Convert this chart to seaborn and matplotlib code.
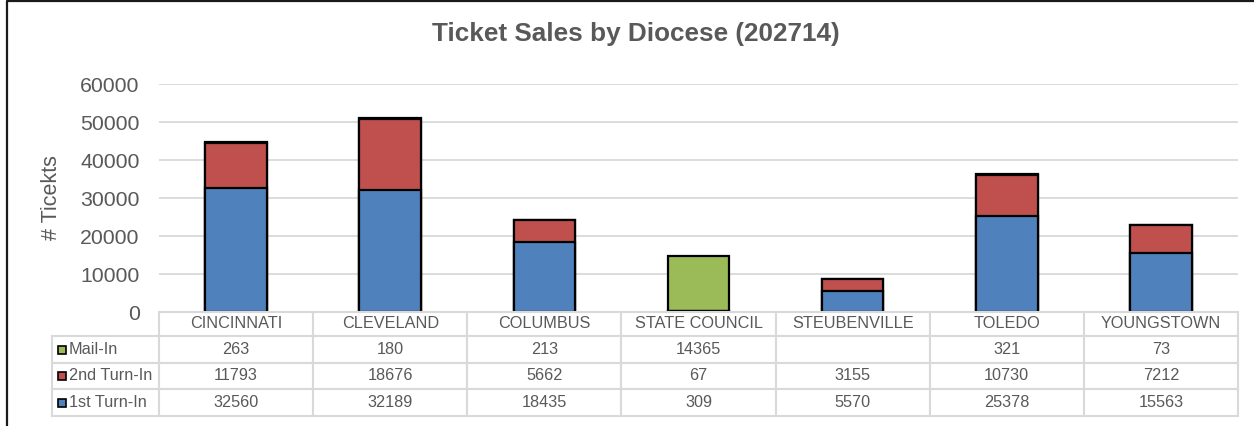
import matplotlib
matplotlib.use("Agg")
import matplotlib.pyplot as plt
import seaborn as sns
import numpy as np
import pandas as pd
from matplotlib.table import Table
from matplotlib.patches import Rectangle
from matplotlib.lines import Line2D

# ---- data ----
categories = ["CINCINNATI", "CLEVELAND", "COLUMBUS", "STATE COUNCIL",
              "STEUBENVILLE", "TOLEDO", "YOUNGSTOWN"]
first_turn_in = [32560, 32189, 18435, 309, 5570, 25378, 15563]
second_turn_in = [11793, 18676, 5662, 67, 3155, 10730, 7212]
mail_in = [263, 180, 213, 14365, None, 321, 73]
series_names = ["Mail-In", "2nd Turn-In", "1st Turn-In"]
y_ticks = [0, 10000, 20000, 30000, 40000, 50000, 60000]
title = "Ticket Sales by Diocese (202714)"
y_label = "# Ticekts"

BLUE, RED, GREEN = "#4F81BD", "#C0504D", "#9BBB59"
TXT = "#595959"
GRID = "#D9D9D9"

sns.set_theme(style="white")
plt.rcParams["font.family"] = ["Liberation Sans", "DejaVu Sans"]

W, H = 1254, 426
fig = plt.figure(figsize=(W / 100, H / 100), dpi=100)

# outer border (only top and left visible in the reference)
fig.lines.append(Line2D([6.5 / W, 6.5 / W, 1.0], [0.0, 1 - 1 / H, 1 - 1 / H],
                        transform=fig.transFigure, color="#1a1a1a", linewidth=1.6))

ax = fig.add_axes([159 / W, 1 - 312 / H, (1238 - 159) / W, (312 - 84) / H])

df = pd.DataFrame({"cat": categories, "first": first_turn_in,
                   "second": second_turn_in,
                   "mail": [m if m is not None else 0 for m in mail_in]})
df["lvl2"] = df["first"] + df["second"]
df["lvl3"] = df["lvl2"] + df["mail"]

common = dict(x="cat", saturation=1, width=0.4, edgecolor="black",
              linewidth=1.6, errorbar=None, ax=ax, order=categories)
sns.barplot(data=df, y="lvl3", color=GREEN, **common)
sns.barplot(data=df, y="lvl2", color=RED, **common)
sns.barplot(data=df, y="first", color=BLUE, **common)

ax.set_ylim(0, 60000)
ax.set_xlim(-0.5, len(categories) - 0.5)
ax.set_yticks(y_ticks)
ax.set_yticklabels([str(t) for t in y_ticks], fontsize=15.3, color=TXT)
ax.tick_params(axis="y", length=0, pad=14)
ax.set_xticks([])
ax.set_xlabel("")
ax.set_ylabel(y_label, fontsize=15.5, color=TXT)
ax.yaxis.set_label_coords((62 - 159) / (1238 - 159), (312 - 198) / (312 - 84))
ax.yaxis.grid(True, color=GRID, linewidth=1.3)
ax.set_axisbelow(True)
for s in ax.spines.values():
    s.set_visible(False)

fig.text(636 / W, 1 - 34 / H, title, ha="center", va="center",
         fontsize=18.8, fontweight="bold", color=TXT)

# ---- data table ----
ax_t = fig.add_axes([52 / W, 1 - 416 / H, (1238 - 52) / W, (416 - 312) / H])
ax_t.axis("off")
tbl = Table(ax_t, bbox=[0, 0, 1, 1])
col_w = [107 / 1186] + [154 / 1186] * len(categories)
row_h = [24 / 104, 27 / 104, 26 / 104, 27 / 104]

def fmt(v):
    return "" if v is None else str(v)

rows = [mail_in, second_turn_in, first_turn_in]
for j, c in enumerate(categories):
    tbl.add_cell(0, j + 1, col_w[j + 1], row_h[0], text=c, loc="center")
for i, (name, vals) in enumerate(zip(series_names, rows)):
    cell = tbl.add_cell(i + 1, 0, col_w[0], row_h[i + 1], text=name, loc="left")
    cell.PAD = 17 / 107
    for j, v in enumerate(vals):
        tbl.add_cell(i + 1, j + 1, col_w[j + 1], row_h[i + 1], text=fmt(v), loc="center")
corner = tbl.add_cell(0, 0, col_w[0], row_h[0], text="")
corner.visible_edges = ""

tbl.auto_set_font_size(False)
tbl.set_fontsize(11.7)
for (r, c), cell in tbl.get_celld().items():
    cell.set_edgecolor(GRID)
    cell.set_linewidth(1.5)
    cell.get_text().set_color(TXT)
ax_t.add_table(tbl)

# legend swatches in row labels
sw_colors = [GREEN, RED, BLUE]
cum = 1 - row_h[0]
for i, col in enumerate(sw_colors):
    h = row_h[i + 1]
    yc = cum - h / 2
    cum -= h
    ax_t.add_patch(Rectangle(((58 - 52) / 1186, yc - 4 / 104), 8 / 1186, 8 / 104,
                             transform=ax_t.transAxes, facecolor=col,
                             edgecolor="black", linewidth=1.2, clip_on=False))

fig.savefig("out.png", dpi=100)
